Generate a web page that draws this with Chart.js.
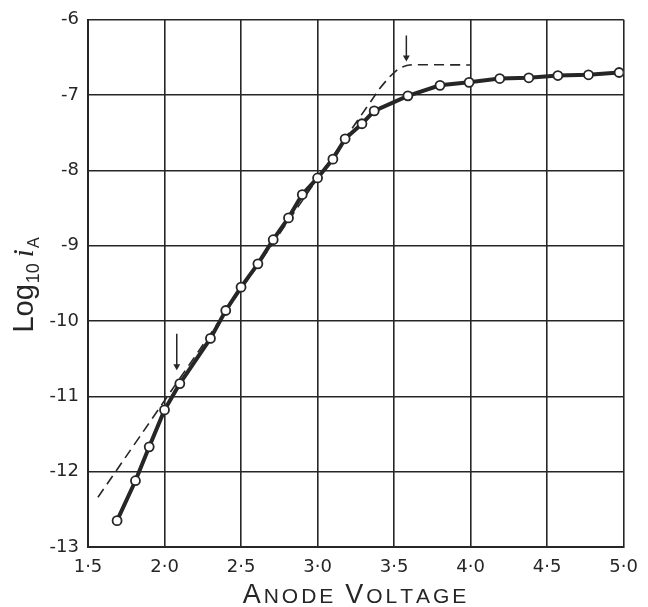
<!DOCTYPE html>
<html>
<head>
<meta charset="utf-8">
<script src="https://cdn.jsdelivr.net/npm/chart.js@4"></script>
<style>
  html, body { margin: 0; padding: 0; background: #fff; }
  #wrap { width: 648px; height: 607px; }
</style>
</head>
<body>
<div id="wrap"><canvas id="chart" width="648" height="607"></canvas></div>
<script>
// measured points (anode voltage vs log10 iA)
const voltage = [1.69, 1.81, 1.90, 2.00, 2.10, 2.30, 2.40, 2.50, 2.61, 2.71, 2.81, 2.90, 3.00,
                 3.10, 3.18, 3.29, 3.37, 3.59, 3.80, 3.99, 4.19, 4.38, 4.57, 4.77, 4.97];
const logCurrent = [-12.65, -12.12, -11.67, -11.18, -10.83, -10.23, -9.86, -9.55, -9.24, -8.92, -8.63, -8.32, -8.10,
                    -7.85, -7.58, -7.38, -7.21, -7.01, -6.87, -6.83, -6.78, -6.77, -6.74, -6.73, -6.70];

// dashed theoretical line
const dashVoltage = [1.565, 3.40, 3.47, 3.53, 3.60, 4.00];
const dashLog = [-12.34, -6.93, -6.76, -6.65, -6.60, -6.60];

// arrows marking the break points
const arrowVoltage = [2.08, 3.58];
const arrowFrom = [-10.17, -6.21];
const arrowTo = [-10.60, -6.50];

const xTicks = [1.5, 2.0, 2.5, 3.0, 3.5, 4.0, 4.5, 5.0];
const yTicks = [-6, -7, -8, -9, -10, -11, -12, -13];

const ink = '#262626';
const tickFont = { family: 'DejaVu Sans, sans-serif', size: 18 };

function pts(xs, ys) {
    return xs.map((x, i) => ({ x: x, y: ys[i] }));
}

const arrowSets = arrowVoltage.map((v, i) => ({
    data: [{ x: v, y: arrowFrom[i] }, { x: v, y: arrowTo[i] }],
    borderColor: ink,
    borderWidth: 1.5,
    pointRadius: [0, 4],
    pointStyle: 'triangle',
    pointRotation: 180,
    pointBackgroundColor: ink,
    pointBorderColor: ink,
    pointBorderWidth: 0
}));

// axis titles with subscripts / small caps
const titles = {
    id: 'titles',
    afterDraw(chart) {
        const ctx = chart.ctx;
        ctx.save();
        ctx.fillStyle = ink;
        ctx.textBaseline = 'alphabetic';

        // y title: Log10 iA
        const parts = [
            { t: 'Log', f: '29px Liberation Sans, sans-serif', dy: 0, gap: 1 },
            { t: '10', f: '18px Liberation Sans, sans-serif', dy: 6, gap: 6 },
            { t: 'i', f: 'italic 29px Liberation Serif, serif', dy: 0, gap: 1 },
            { t: 'A', f: '16px Liberation Sans, sans-serif', dy: 6, gap: 0 }
        ];
        let total = 0;
        parts.forEach(p => { ctx.font = p.f; p.w = ctx.measureText(p.t).width; total += p.w + p.gap; });
        ctx.translate(25, 285);
        ctx.rotate(-Math.PI / 2);
        let x = -total / 2;
        parts.forEach(p => { ctx.font = p.f; ctx.fillText(p.t, x, 8 + p.dy); x += p.w + p.gap; });
        ctx.setTransform(1, 0, 0, 1, 0, 0);

        // x title: ANODE VOLTAGE in small caps
        const caps = [
            { t: 'A', big: true }, { t: 'NODE', big: false }, { t: ' ', big: false },
            { t: 'V', big: true }, { t: 'OLTAGE', big: false }
        ];
        const spacing = 3;
        const capFont = c => (c.big ? '27px' : '21px') + ' Liberation Sans, Arial, sans-serif';
        let width = 0;
        caps.forEach(c => {
            ctx.font = capFont(c);
            for (const ch of c.t) width += ctx.measureText(ch).width + spacing;
        });
        let cx = 356 - width / 2;
        caps.forEach(c => {
            ctx.font = capFont(c);
            for (const ch of c.t) {
                ctx.fillText(ch, cx, 603);
                cx += ctx.measureText(ch).width + spacing;
            }
        });
        ctx.restore();
    }
};

new Chart(document.getElementById('chart'), {
    type: 'line',
    data: {
        datasets: [
            {
                data: pts(voltage, logCurrent),
                borderColor: ink,
                borderWidth: 4,
                pointRadius: 4.5,
                pointBackgroundColor: '#fff',
                pointBorderColor: ink,
                pointBorderWidth: 1.8,
                tension: 0
            },
            {
                data: pts(dashVoltage, dashLog),
                borderColor: ink,
                borderWidth: 1.6,
                borderDash: [10, 6],
                pointRadius: 0,
                tension: 0.2
            },
            ...arrowSets
        ]
    },
    options: {
        responsive: false,
        animation: false,
        layout: { padding: { top: 17, right: 21, left: 0, bottom: 0 } },
        plugins: { legend: { display: false }, tooltip: { enabled: false } },
        scales: {
            x: {
                type: 'linear',
                min: 1.5,
                max: 5.0,
                afterFit: s => { s.height = 60; },
                afterBuildTicks: s => { s.ticks = xTicks.map(v => ({ value: v })); },
                grid: { color: ink, lineWidth: 1.6, drawTicks: false },
                border: { color: ink, width: 2 },
                ticks: {
                    color: ink,
                    font: tickFont,
                    padding: 10,
                    maxRotation: 0,
                    callback: v => v.toFixed(1).replace('.', '·')
                }
            },
            y: {
                type: 'linear',
                min: -13,
                max: -6,
                afterFit: s => { s.width = 88; },
                afterBuildTicks: s => { s.ticks = yTicks.map(v => ({ value: v })); },
                grid: { color: ink, lineWidth: 1.6, drawTicks: false },
                border: { color: ink, width: 2 },
                ticks: {
                    color: ink,
                    font: tickFont,
                    padding: 9,
                    callback: v => String(v)
                }
            }
        }
    },
    plugins: [titles]
});
</script>
</body>
</html>
